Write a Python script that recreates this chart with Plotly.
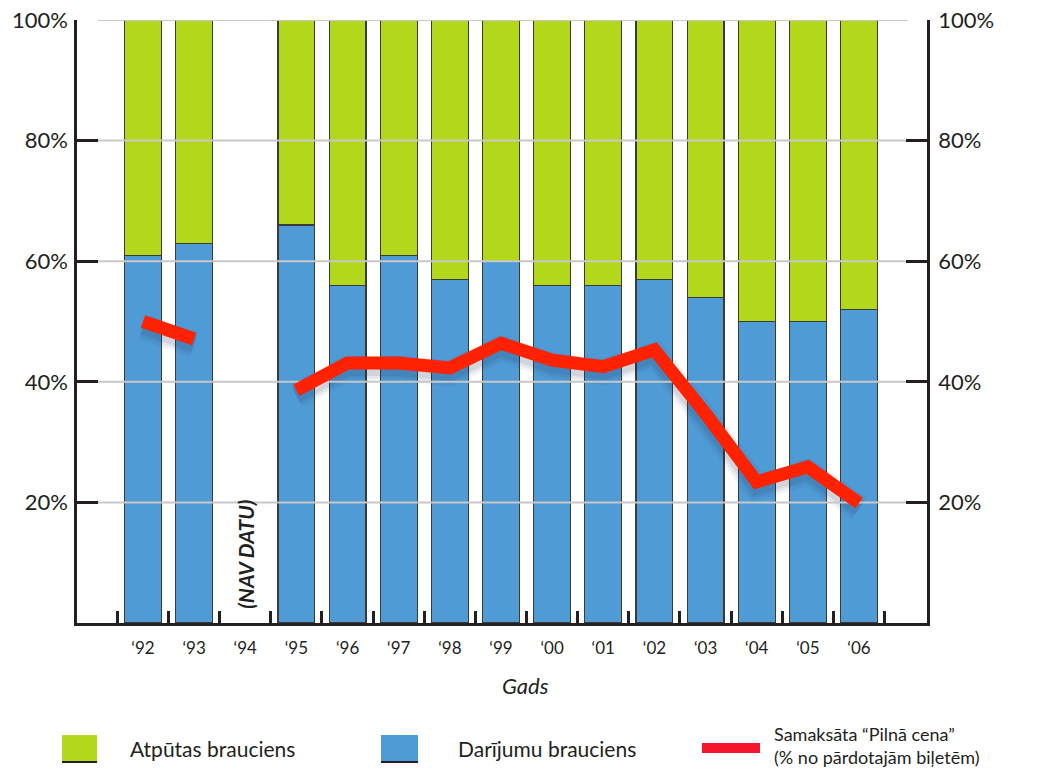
import plotly.graph_objects as go

# Years (index positions on the x axis) and their labels
years = ["‘92", "‘93", "‘94", "‘95", "‘96", "‘97", "‘98", "‘99",
         "‘00", "‘01", "‘02", "‘03", "‘04", "‘05", "‘06"]
# Share of business trips (%), no data for 1994
business = [61, 63, None, 66, 56, 61, 57, 60, 56, 56, 57, 54, 50, 50, 52]
# Share of leisure trips (%) = remainder to 100
leisure = [None if b is None else 100 - b for b in business]
# Full fare paid, % of tickets sold
full_fare = [50.0, 47.1, None, 38.6, 43.1, 43.1, 42.3, 46.4, 43.6, 42.5,
             45.3, 34.7, 23.4, 25.9, 19.9]

y_ticks = [20, 40, 60, 80, 100]
y_tick_text = [f"{v}%" for v in y_ticks]

GREEN = "#b3d71a"
BLUE = "#4f9bd6"
RED = "#ff2200"
INK = "#231f20"
FONT = "Lato, 'Open Sans', sans-serif"

idx = list(range(len(years)))
X_RANGE = [-1.29, 15.33]

fig = go.Figure()

fig.add_trace(go.Bar(x=idx, y=business, marker=dict(color=BLUE, line=dict(color="#3a3a3a", width=1.2)),
                     name="Darījumu brauciens", yaxis="y"))
fig.add_trace(go.Bar(x=idx, y=leisure, marker=dict(color=GREEN, line=dict(color="#3a3a3a", width=1.2)),
                     name="Atpūtas brauciens", yaxis="y"))

# soft drop shadow under the fare line (drawn on a slightly shifted axis)
for w, a in [(26, 0.05), (20, 0.07), (15, 0.09)]:
    fig.add_trace(go.Scatter(x=idx, y=full_fare, mode="lines", yaxis="y2",
                             line=dict(color=f"rgba(30,45,80,{a})", width=w),
                             hoverinfo="skip", showlegend=False))

# horizontal grid lines drawn above the bars
gx, gy = [], []
for v in y_ticks:
    gx += [-0.88, 14.95, None]
    gy += [v, v, None]
fig.add_trace(go.Scatter(x=gx, y=gy, mode="lines", yaxis="y3",
                         line=dict(color="#c8c8c8", width=2), hoverinfo="skip", showlegend=False))

fig.add_trace(go.Scatter(x=idx, y=full_fare, mode="lines", yaxis="y3",
                         line=dict(color=RED, width=13), name="Samaksāta “Pilnā cena”"))

axis_common = dict(range=[0, 100], tickvals=y_ticks, ticktext=y_tick_text,
                   ticks="inside", ticklen=21, tickwidth=3, tickcolor=INK,
                   showline=True, linecolor=INK, linewidth=2.5,
                   showgrid=False, zeroline=False, automargin=False,
                   tickfont=dict(family=FONT, size=22, color=INK))

fig.update_layout(
    width=1037, height=771,
    margin=dict(l=77, r=110, t=20, b=148, autoexpand=False),
    paper_bgcolor="white", plot_bgcolor="white",
    barmode="stack", bargap=0.28,
    showlegend=False,
    font=dict(family=FONT, color=INK),
    xaxis=dict(range=X_RANGE, tickmode="array", tickvals=idx, ticktext=years,
               ticks="", showline=True, linecolor=INK, linewidth=2.5,
               showgrid=False, zeroline=False, ticklabelstandoff=8, automargin=False,
               tickfont=dict(family=FONT, size=17, color=INK),
               minor=dict(tickmode="linear", tick0=0.5, dtick=1, ticks="inside",
                          ticklen=12, tickwidth=2.5, tickcolor=INK, showgrid=False)),
    yaxis=dict(side="left", ticklabelstandoff=2, **axis_common),
    yaxis2=dict(overlaying="y", range=[0.9, 100.9], visible=False, automargin=False),
    yaxis3=dict(overlaying="y", side="right", ticklabelstandoff=4, **axis_common),
)

# "no data" note for 1994
fig.add_annotation(x=2, y=0, xref="x", yref="y", yshift=12, yanchor="bottom",
                   text="<b><i>(NAV DATU)</i></b>", textangle=-90, showarrow=False,
                   font=dict(family=FONT, size=21, color=INK))

# axis title
fig.add_annotation(x=7.47, xref="x", y=(623 - 685) / 603, yref="paper", yanchor="middle",
                   text="<i>Gads</i>", showarrow=False,
                   font=dict(family=FONT, size=22, color=INK))

# legend drawn below the plot
def px_x(p):
    return (p - 77) / 850


def px_y(p):
    return (623 - p) / 603


for x0, x1, col in [(62, 97, GREEN), (381, 418, BLUE)]:
    fig.add_shape(type="rect", xref="paper", yref="paper",
                  x0=px_x(x0), x1=px_x(x1), y0=px_y(763), y1=px_y(735),
                  fillcolor=col, line=dict(width=0))
    fig.add_shape(type="line", xref="paper", yref="paper",
                  x0=px_x(x0), x1=px_x(x1), y0=px_y(762), y1=px_y(762),
                  line=dict(color="#231f20", width=2))
fig.add_shape(type="line", xref="paper", yref="paper",
              x0=px_x(702), x1=px_x(760), y0=px_y(748), y1=px_y(748),
              line=dict(color="#f5162b", width=10))

legend_text = [
    (128, 748, "Atpūtas brauciens"),
    (456, 748, "Darījumu brauciens"),
]
for x, y, t in legend_text:
    fig.add_annotation(x=px_x(x), y=px_y(y), xref="paper", yref="paper", text=t,
                       xanchor="left", yanchor="middle", showarrow=False,
                       font=dict(family=FONT, size=21, color=INK))
fig.add_annotation(x=px_x(772), y=px_y(745), xref="paper", yref="paper",
                   text="Samaksāta “Pilnā cena”<br>(% no pārdotajām biļetēm)",
                   xanchor="left", yanchor="middle", align="left", showarrow=False,
                   font=dict(family=FONT, size=18, color=INK))

fig.write_html("out.html")
